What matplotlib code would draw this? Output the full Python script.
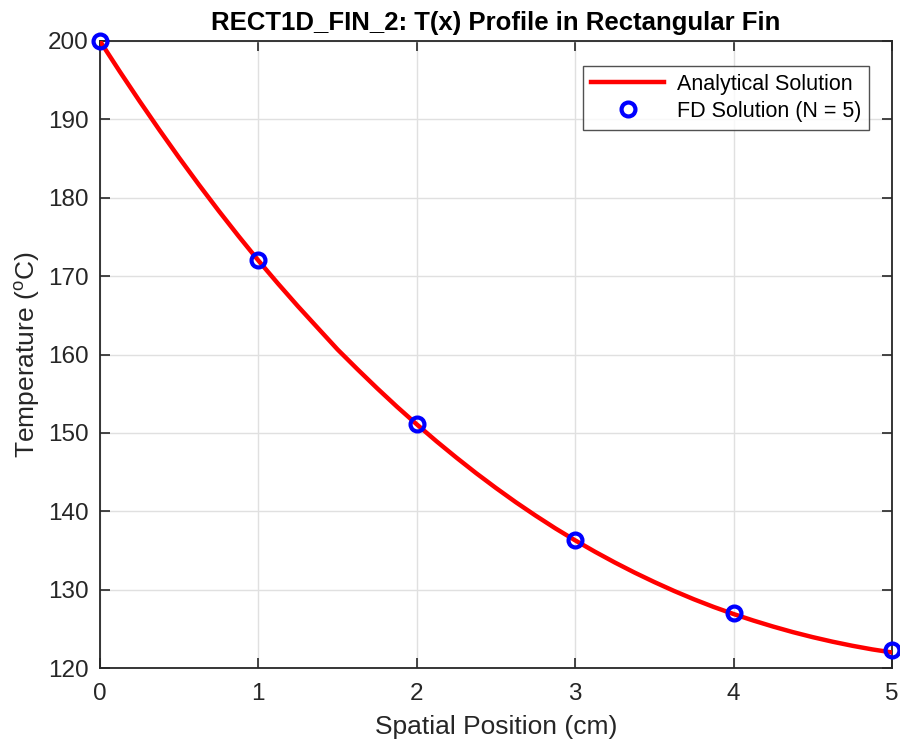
import numpy as np
import matplotlib
matplotlib.use("Agg")
import matplotlib.pyplot as plt

# analytical curve
x_exact = [0.0, 0.125, 0.25, 0.375, 0.5, 0.625, 0.75, 0.875,
           1.0, 1.125, 1.25, 1.375, 1.5, 1.625, 1.75, 1.875,
           2.0, 2.125, 2.25, 2.375, 2.5, 2.625, 2.75, 2.875,
           3.0, 3.125, 3.25, 3.375, 3.5, 3.625, 3.75, 3.875,
           4.0, 4.125, 4.25, 4.375, 4.5, 4.625, 4.75, 4.875, 5.0]
T_exact = [200.0, 196.11, 192.33, 188.66, 185.10, 181.66, 178.33, 175.11,
           172.0, 169.03, 166.16, 163.40, 160.65, 158.14, 155.70, 153.35,
           151.1, 148.93, 146.86, 144.87, 142.98, 141.17, 139.46, 137.83,
           136.3, 134.85, 133.48, 132.19, 130.98, 129.84, 128.78, 127.80,
           126.9, 126.07, 125.30, 124.59, 123.95, 123.37, 122.85, 122.39, 122.0]

# finite difference nodes
x_fd = [0, 1, 2, 3, 4, 5]
T_fd = [200.0, 172.0, 151.1, 136.3, 127.0, 122.3]

x_ticks = [0, 1, 2, 3, 4, 5]
y_ticks = [120, 130, 140, 150, 160, 170, 180, 190, 200]

plt.rcParams["font.family"] = ["Liberation Sans", "DejaVu Sans"]
plt.rcParams["mathtext.default"] = "regular"

fig = plt.figure(figsize=(9, 7.44), dpi=100)
ax = fig.add_axes([0.111, 0.102, 0.880, 0.843])

ax.plot(x_exact, T_exact, color="red", lw=3.2, label="Analytical Solution", zorder=3)
ax.plot(x_fd, T_fd, "o", mfc="none", mec="blue", mew=3, ms=10,
        label="FD Solution (N = 5)", zorder=4, clip_on=False)

ax.set_xlim(0, 5)
ax.set_ylim(120, 200)
ax.set_xticks(x_ticks)
ax.set_yticks(y_ticks)
ax.grid(True, color="#e0e0e0", lw=1)
ax.set_axisbelow(True)

ax.tick_params(direction="in", top=True, right=True, length=7, width=1.2,
               labelsize=17.5, colors="#262626")
ax.tick_params(axis="x", pad=11)
ax.tick_params(axis="y", pad=8)
for s in ax.spines.values():
    s.set_linewidth(1.3)
    s.set_color("#262626")

ax.set_xlabel("Spatial Position (cm)", fontsize=19, color="#262626", labelpad=7)
ax.set_ylabel(r"Temperature ($^{o}$C)", fontsize=19, color="#262626", labelpad=4)
ax.set_title("RECT1D_FIN_2: T(x) Profile in Rectangular Fin", fontsize=18.5,
             fontweight="bold", pad=8)

leg = ax.legend(loc="upper right", bbox_to_anchor=(0.971, 0.960), borderaxespad=0,
                fontsize=15.5, frameon=True, fancybox=False, edgecolor="#262626",
                handlelength=3.4, borderpad=0.35, labelspacing=0.3,
                handletextpad=0.6)
leg.get_frame().set_linewidth(1.0)

fig.savefig("out.png", dpi=100)
